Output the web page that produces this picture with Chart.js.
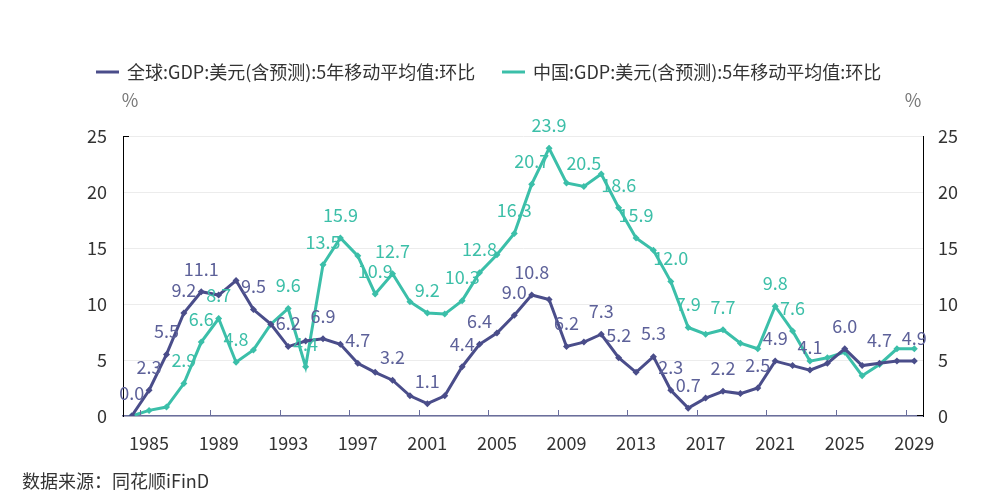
<!DOCTYPE html>
<html>
<head>
<meta charset="utf-8">
<script src="https://cdn.jsdelivr.net/npm/chart.js@4.4.1/dist/chart.umd.min.js"></script>
<style>
  html, body { margin: 0; padding: 0; background: #fff; }
  #wrap { position: relative; width: 997px; height: 500px; }
  #source { position: absolute; left: 22px; top: 467px; font: 18px "Noto Sans CJK SC", sans-serif; color: #333; }
</style>
</head>
<body>
<div id="wrap">
  <canvas id="gdpChart" width="997" height="500"></canvas>
  <div id="source">数据来源：同花顺iFinD</div>
</div>
<script>
const years = [1984, 1985, 1986, 1987, 1988, 1989, 1990, 1991, 1992, 1993,
    1994, 1995, 1996, 1997, 1998, 1999, 2000, 2001, 2002, 2003,
    2004, 2005, 2006, 2007, 2008, 2009, 2010, 2011, 2012, 2013,
    2014, 2015, 2016, 2017, 2018, 2019, 2020, 2021, 2022, 2023,
    2024, 2025, 2026, 2027, 2028, 2029];

const globalValues = [0.0, 2.3, 5.5, 9.2, 11.1, 10.8, 12.1, 9.5, 8.2, 6.2,
    6.7, 6.9, 6.4, 4.7, 3.9, 3.2, 1.8, 1.1, 1.8, 4.4,
    6.4, 7.4, 9.0, 10.8, 10.4, 6.2, 6.6, 7.3, 5.2, 3.9,
    5.3, 2.3, 0.7, 1.6, 2.2, 2.0, 2.5, 4.9, 4.5, 4.1,
    4.7, 6.0, 4.5, 4.7, 4.9, 4.9];

const chinaValues = [0.0, 0.5, 0.8, 2.9, 6.6, 8.7, 4.8, 5.9, 8.2, 9.6,
    4.4, 13.5, 15.9, 14.3, 10.9, 12.7, 10.2, 9.2, 9.1, 10.3,
    12.8, 14.4, 16.3, 20.7, 23.9, 20.8, 20.5, 21.6, 18.6, 15.9,
    14.8, 12.0, 7.9, 7.3, 7.7, 6.5, 6.0, 9.8, 7.6, 4.9,
    5.2, 5.7, 3.6, 4.6, 6.0, 6.0];

// years whose value is printed above the point
const globalLabelYears = [1984, 1985, 1986, 1987, 1988, 1991, 1993, 1995, 1997, 1999,
    2001, 2003, 2004, 2006, 2007, 2009, 2011, 2012, 2014, 2015,
    2016, 2018, 2020, 2021, 2023, 2025, 2027, 2029];
const chinaLabelYears = [1987, 1988, 1989, 1990, 1993, 1994, 1995, 1996, 1998, 1999,
    2001, 2003, 2004, 2006, 2007, 2008, 2010, 2012, 2013, 2015,
    2016, 2018, 2021, 2022];

const yTicks = [0, 5, 10, 15, 20, 25];

const seriesNames = ['全球:GDP:美元(含预测):5年移动平均值:环比', '中国:GDP:美元(含预测):5年移动平均值:环比'];

const FONT_FAMILY = '"Noto Sans CJK SC", sans-serif';
const BLUE = '#4a4d8a';
const GREEN = '#3bbfa9';

const extrasPlugin = {
    id: 'extras',
    afterDraw(chart) {
        const ctx = chart.ctx;
        const area = chart.chartArea;
        const xScale = chart.scales.x;
        ctx.save();

        // x ticks sit on category boundaries and point into the plot
        const band = xScale.getPixelForValue(1) - xScale.getPixelForValue(0);
        ctx.strokeStyle = '#6a6e9c';
        ctx.lineWidth = 1;
        years.forEach((y, i) => {
            if (i === 0 || (y - 1985) % 4 !== 0) return;
            const x = Math.round(xScale.getPixelForValue(i) - band / 2) + 0.5;
            ctx.beginPath();
            ctx.moveTo(x, area.bottom);
            ctx.lineTo(x, area.bottom - 6);
            ctx.stroke();
        });

        ctx.strokeStyle = '#000';
        ctx.beginPath();
        ctx.moveTo(area.left, area.top + 0.5);
        ctx.lineTo(area.left + 6, area.top + 0.5);
        ctx.moveTo(area.right - 6, area.bottom - 0.5);
        ctx.lineTo(area.right, area.bottom - 0.5);
        ctx.stroke();

        // legend
        ctx.font = '18px ' + FONT_FAMILY;
        ctx.textBaseline = 'middle';
        ctx.textAlign = 'left';
        const legendX = [96, 502];
        chart.data.datasets.forEach((ds, i) => {
            ctx.strokeStyle = ds.borderColor;
            ctx.lineWidth = 3;
            ctx.beginPath();
            ctx.moveTo(legendX[i], 72);
            ctx.lineTo(legendX[i] + 23, 72);
            ctx.stroke();
            ctx.fillStyle = '#333';
            ctx.fillText(ds.label, legendX[i] + 31, 72);
        });

        // unit marks
        ctx.fillStyle = '#777';
        ctx.textAlign = 'center';
        ctx.fillText('%', 130, 100);
        ctx.fillText('%', 913, 100);

        // value labels
        ctx.font = '18px ' + FONT_FAMILY;
        chart.data.datasets.forEach((ds, di) => {
            const meta = chart.getDatasetMeta(di);
            ctx.fillStyle = ds.labelColor;
            meta.data.forEach((pt, i) => {
                if (!ds.labelYears.includes(years[i])) return;
                ctx.fillText(ds.data[i].toFixed(1), pt.x, pt.y - 23);
            });
        });
        ctx.restore();
    }
};

const tickFont = { family: FONT_FAMILY, size: 18 };

new Chart(document.getElementById('gdpChart'), {
    type: 'line',
    data: {
        labels: years,
        datasets: [{
            label: seriesNames[0],
            data: globalValues,
            borderColor: BLUE,
            backgroundColor: BLUE,
            borderWidth: 3,
            pointStyle: 'rectRot',
            pointRadius: 3.5,
            pointBorderWidth: 0,
            tension: 0,
            yAxisID: 'y',
            labelColor: '#5d6199',
            labelYears: globalLabelYears
        }, {
            label: seriesNames[1],
            data: chinaValues,
            borderColor: GREEN,
            backgroundColor: GREEN,
            borderWidth: 3,
            pointStyle: 'rectRot',
            pointRadius: 3.5,
            pointBorderWidth: 0,
            tension: 0,
            yAxisID: 'y1',
            labelColor: '#3cbfa8',
            labelYears: chinaLabelYears
        }]
    },
    options: {
        responsive: false,
        animation: false,
        layout: { padding: { left: 0, right: 0, top: 136, bottom: 44 } },
        plugins: {
            legend: { display: false },
            tooltip: { enabled: false }
        },
        scales: {
            x: {
                offset: true,
                grid: { display: false },
                border: { display: true, color: '#6a6e9c', width: 1.5 },
                ticks: {
                    autoSkip: false,
                    maxRotation: 0,
                    padding: 8,
                    color: '#333',
                    font: tickFont,
                    callback: function (value, index) {
                        return (years[index] - 1985) % 4 === 0 ? String(years[index]) : '';
                    }
                },
                afterFit: function (scale) { scale.height = 40; }
            },
            y: {
                position: 'left',
                min: yTicks[0],
                max: yTicks[yTicks.length - 1],
                afterBuildTicks: function (scale) { scale.ticks = yTicks.map(v => ({ value: v })); },
                grid: { color: '#ececec', drawTicks: false },
                border: { display: true, color: '#000', width: 1 },
                ticks: { padding: 16, color: '#333', font: tickFont },
                afterFit: function (scale) { scale.width = 123; }
            },
            y1: {
                position: 'right',
                min: yTicks[0],
                max: yTicks[yTicks.length - 1],
                afterBuildTicks: function (scale) { scale.ticks = yTicks.map(v => ({ value: v })); },
                grid: { drawOnChartArea: false, drawTicks: false },
                border: { display: true, color: '#000', width: 1 },
                ticks: { padding: 15, color: '#333', font: tickFont },
                afterFit: function (scale) { scale.width = 74; }
            }
        }
    },
    plugins: [extrasPlugin]
});
</script>
</body>
</html>
